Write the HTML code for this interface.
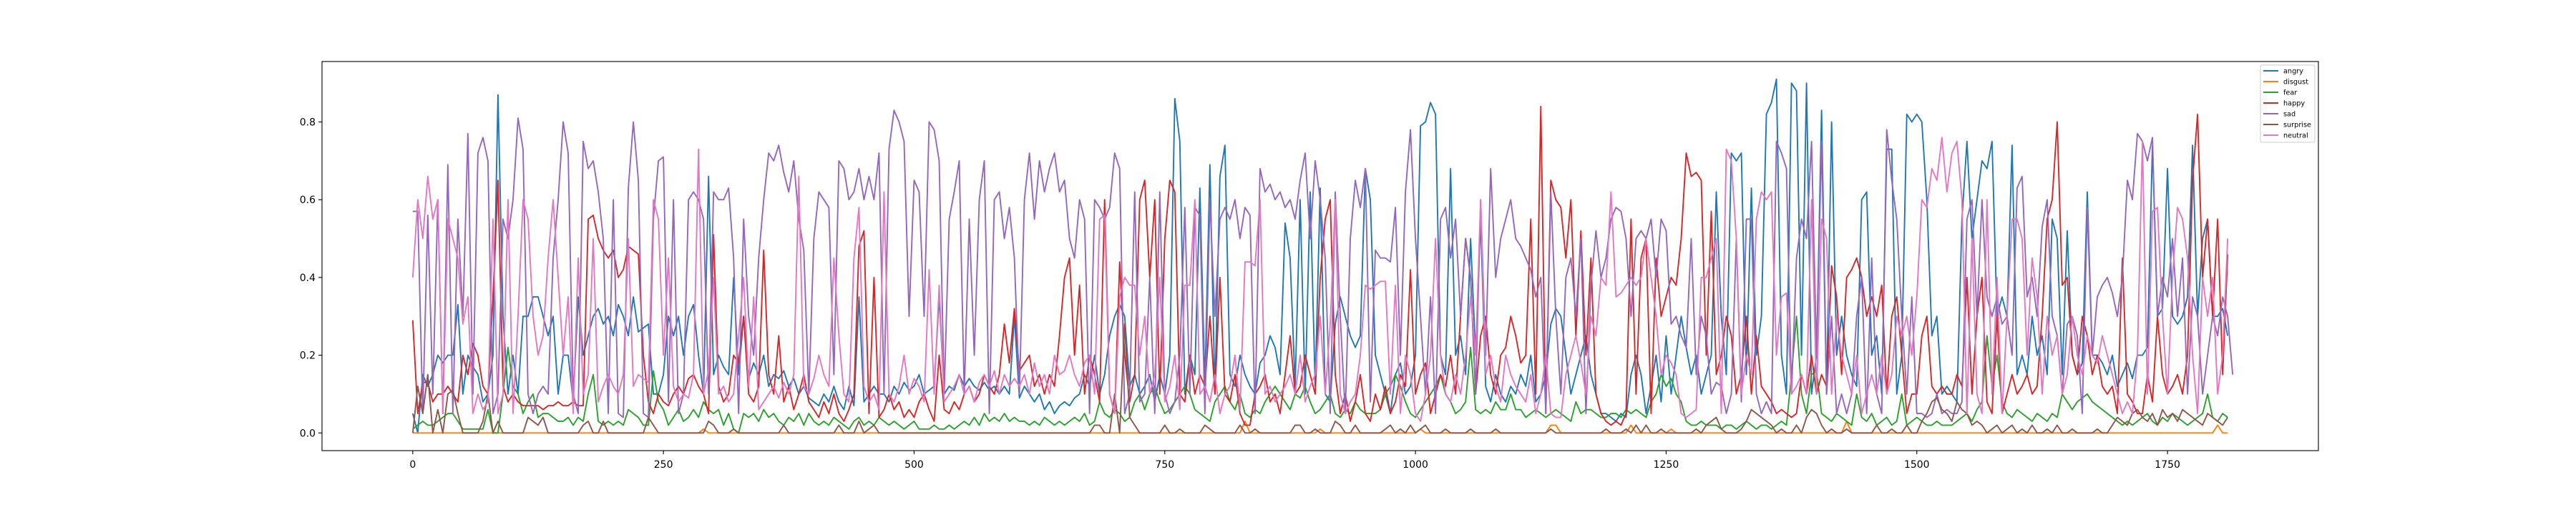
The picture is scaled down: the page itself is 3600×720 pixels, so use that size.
<!DOCTYPE html>
<html>
<head>
<meta charset="utf-8">
<style>
html,body{margin:0;padding:0;background:#fff;}
svg{display:block;font-family:"DejaVu Sans","Liberation Sans",sans-serif;}
</style>
</head>
<body>
<svg id="chart" width="3600" height="720" viewBox="0 0 3600 720" xmlns="http://www.w3.org/2000/svg">
  <rect x="0" y="0" width="3600" height="720" fill="#fff"/>
  <g id="series"></g>
  <g id="axes"></g>
  <g id="legend"></g>
</svg>
<script>
// ---- data (sampled every 5 frames) ----
const frameStep = 5;
const seriesNames = ["angry","disgust","fear","happy","sad","surprise","neutral"];
const seriesColors = ["#1f77b4","#ff7f0e","#2ca02c","#d62728","#9467bd","#8c564b","#e377c2"];
const xTicks = [0,250,500,750,1000,1250,1500,1750];
const yTicks = [0.0,0.2,0.4,0.6,0.8];
const yTickLabels = ["0.0","0.2","0.4","0.6","0.8"];

const angry = [
.05,.0,.15,.12,.15,.2,.18,.2,.2,.33,.1,.2,.17,.15,.08,.1,.2,.87,.3,.1,.2,.1,.3,.3,.35,.35,.3,.25,.3,.1,.2,.2,.08,.35,.2,.25,.3,.32,.28,.3,.25,.33,.3,.25,.35,.26,.27,.28,.1,.1,.15,.3,.25,.3,.2,.3,.33,.2,.1,.66,.15,
.2,.17,.15,.4,.15,.3,.14,.18,.15,.2,.12,.15,.14,.16,.12,.14,.1,.12,.09,.08,.07,.1,.08,.12,.08,.06,.12,.07,.35,.08,.1,.12,.1,.1,.08,.12,.1,.13,.11,.12,.15,.1,.11,.12,.35,.1,.12,.11,.15,.12,.14,.12,.11,.13,.11,.12,.1,.12,.1,.3,.09,
.12,.1,.08,.1,.06,.08,.05,.07,.08,.07,.09,.1,.15,.12,.2,.1,.15,.25,.3,.33,.3,.12,.15,.1,.12,.15,.08,.15,.1,.2,.86,.75,.1,.2,.15,.63,.12,.69,.1,.66,.74,.15,.12,.2,.15,.12,.1,.18,.2,.25,.22,.15,.54,.45,.12,.6,.1,.62,.12,.63,.1,.08,
.28,.35,.3,.25,.22,.25,.68,.6,.2,.15,.1,.05,.15,.18,.1,.12,.2,.79,.8,.85,.82,.2,.15,.68,.2,.25,.15,.5,.2,.55,.12,.08,.15,.1,.08,.12,.1,.15,.12,.2,.08,.1,.15,.28,.32,.3,.2,.1,.15,.2,.25,.15,.1,.05,.05,.04,.03,.05,.04,.15,.2,
.15,.05,.12,.2,.08,.25,.1,.2,.3,.22,.15,.2,.1,.15,.2,.62,.3,.15,.72,.7,.72,.15,.63,.2,.3,.82,.85,.91,.2,.1,.9,.88,.2,.9,.1,.2,.83,.1,.8,.2,.3,.2,.15,.12,.6,.62,.2,.25,.1,.73,.73,.1,.2,.82,.8,.82,.8,.6,.25,.3,.1,.12,
.1,.08,.55,.75,.5,.6,.7,.68,.75,.3,.35,.3,.74,.15,.2,.15,.3,.2,.25,.15,.55,.5,.15,.52,.2,.15,.18,.62,.2,.2,.18,.15,.2,.12,.15,.18,.14,.2,.2,.22,.74,.3,.32,.68,.3,.28,.3,.35,.74,.3,.5,.55,.3,.3,.32,.25
];
const disgust = [
0,0,0,0,0,0,0,0,0,0,0,0,0,0,0,0,0,0,0,0,0,0,0,0,0,0,0,0,0,0,0,0,0,0,0,0,0,0,0,0,0,0,0,0,0,0,0,0,0,0,0,0,0,0,0,0,0,0,.01,0,0,
0,0,0,0,0,0,0,0,0,0,0,0,0,0,0,0,0,0,0,0,0,0,0,0,0,0,0,0,0,0,0,0,0,0,0,0,0,0,0,0,0,0,0,0,0,0,0,0,0,0,0,0,0,0,0,0,0,0,0,0,0,
0,0,0,0,0,0,0,0,0,0,0,0,0,0,0,0,0,0,0,0,0,0,0,0,0,0,0,0,0,0,0,0,0,0,0,0,0,0,0,0,0,0,0,0,.03,0,0,0,0,0,0,0,0,0,0,0,0,0,0,.01,0,0,
0,0,0,0,0,0,0,0,0,0,0,0,0,0,0,0,0,.01,0,0,0,0,0,0,0,0,0,0,0,0,0,0,0,0,0,0,0,0,0,0,0,0,0,.02,.02,0,0,0,0,0,0,0,0,0,0,0,0,0,0,.02,0,
0,0,0,0,0,0,.01,0,0,0,0,0,0,0,0,0,0,0,0,0,0,0,0,0,0,0,0,0,0,0,0,0,0,0,0,0,0,0,0,0,0,.03,0,0,0,0,0,0,0,0,0,0,0,0,0,0,0,0,0,0,0,0,
0,0,0,0,0,0,0,0,0,0,0,0,0,0,0,0,0,0,0,0,0,0,0,0,0,0,0,0,0,0,0,0,0,0,0,0,0,0,0,0,0,0,0,0,0,0,0,0,0,0,0,0,0,.02,0,0
];
const fear = [
.01,.02,.03,.02,.02,.03,.04,.05,.05,.03,.01,.01,.01,.01,.01,.06,.0,.0,.1,.22,.12,.1,.05,.08,.1,.04,.05,.05,.04,.03,.03,.04,.02,.04,.03,.1,.15,.03,.02,.03,.02,.03,.02,.06,.05,.04,.02,.02,.16,.08,.06,.02,.04,.06,.03,.04,.06,.04,.08,.06,.05,
.06,.02,.05,.01,.0,.05,.04,.05,.03,.06,.04,.05,.03,.02,.04,.03,.05,.02,.05,.03,.02,.03,.02,.04,.03,.02,.01,.03,.04,.02,.03,.02,.04,.03,.02,.03,.02,.01,.02,.03,.01,.01,.01,.02,.01,.01,.02,.01,.02,.03,.02,.04,.02,.05,.03,.04,.03,.05,.03,.04,.03,
.03,.02,.03,.02,.04,.03,.02,.03,.02,.03,.04,.03,.05,.02,.03,.08,.05,.04,.06,.05,.03,.04,.08,.1,.06,.1,.12,.08,.05,.06,.08,.1,.12,.1,.06,.05,.04,.03,.08,.1,.12,.08,.06,.1,.05,.04,.06,.05,.08,.1,.12,.1,.08,.06,.1,.09,.12,.08,.05,.06,.08,.1,
.05,.04,.06,.05,.08,.06,.05,.05,.05,.06,.1,.12,.15,.12,.08,.05,.04,.06,.08,.1,.12,.15,.1,.08,.05,.06,.08,.22,.06,.05,.06,.05,.08,.06,.06,.1,.06,.06,.04,.05,.06,.05,.04,.05,.06,.05,.04,.03,.08,.05,.06,.06,.05,.04,.04,.05,.05,.04,.06,.05,.06,
.05,.04,.08,.1,.15,.12,.14,.1,.08,.03,.02,.02,.03,.02,.02,.02,.01,.02,.02,.01,.02,.03,.02,.01,.02,.02,.01,.02,.03,.02,.15,.3,.1,.05,.15,.16,.05,.04,.03,.05,.04,.03,.02,.1,.04,.03,.05,.02,.03,.04,.02,.03,.1,.02,.03,.04,.03,.02,.02,.03,.02,.02,
.02,.03,.04,.05,.03,.06,.08,.25,.12,.2,.08,.05,.04,.06,.05,.04,.03,.05,.04,.03,.05,.04,.1,.08,.06,.08,.09,.1,.08,.07,.06,.05,.04,.03,.02,.03,.02,.03,.04,.05,.03,.02,.04,.03,.05,.04,.03,.02,.03,.04,.05,.1,.04,.03,.05,.04
];
const happy = [
.29,.05,.13,.13,.08,.1,.1,.12,.1,.08,.2,.15,.23,.2,.12,.1,.35,.65,.12,.08,.1,.08,.07,.07,.07,.07,.06,.07,.07,.08,.07,.07,.08,.07,.07,.55,.56,.5,.47,.45,.47,.4,.42,.48,.47,.46,.2,.08,.05,.1,.08,.07,.1,.12,.1,.14,.15,.12,.1,.05,.51,
.12,.08,.1,.2,.18,.3,.1,.08,.12,.47,.15,.1,.25,.08,.12,.06,.1,.15,.08,.06,.04,.08,.05,.1,.05,.03,.06,.1,.48,.52,.05,.4,.04,.06,.1,.06,.08,.04,.06,.04,.08,.1,.06,.03,.2,.06,.05,.08,.06,.1,.12,.08,.1,.15,.12,.1,.15,.28,.18,.32,.16,
.18,.2,.12,.15,.1,.15,.12,.25,.4,.45,.2,.38,.1,.2,.15,.08,.6,.1,.05,.44,.2,.08,.15,.6,.65,.4,.6,.1,.5,.65,.62,.1,.08,.2,.1,.15,.12,.3,.1,.4,.1,.08,.15,.05,.02,.02,.1,.12,.15,.08,.1,.05,.15,.25,.1,.12,.2,.15,.1,.4,.55,.6,
.15,.05,.1,.03,.08,.15,.05,.03,.1,.06,.12,.05,.08,.15,.12,.42,.1,.15,.18,.05,.1,.15,.12,.2,.1,.3,.5,.4,.1,.25,.3,.15,.1,.2,.22,.3,.25,.18,.2,.55,.1,.84,.05,.65,.6,.58,.45,.6,.25,.52,.2,.45,.1,.05,.03,.02,.03,.02,.05,.55,.1,
.45,.5,.05,.45,.3,.35,.4,.38,.5,.72,.66,.67,.65,.2,.57,.15,.2,.3,.25,.1,.15,.3,.1,.25,.12,.1,.08,.05,.06,.05,.04,.05,.15,.1,.2,.1,.15,.12,.43,.35,.15,.4,.42,.45,.4,.3,.35,.3,.38,.1,.3,.35,.2,.05,.1,.1,.25,.3,.12,.1,.12,.1,
.1,.15,.12,.4,.1,.3,.4,.08,.05,.3,.05,.1,.15,.1,.12,.15,.1,.12,.3,.55,.6,.8,.38,.4,.2,.15,.3,.25,.15,.2,.12,.1,.12,.05,.45,.1,.08,.05,.05,.15,.08,.3,.15,.1,.12,.15,.1,.2,.65,.82,.4,.55,.3,.55,.15,.46
];
const sad = [
.57,.57,.05,.56,.1,.6,.05,.69,.05,.55,.3,.77,.1,.72,.76,.7,.05,.1,.55,.5,.6,.81,.73,.1,.05,.1,.12,.1,.45,.6,.8,.72,.1,.05,.75,.68,.7,.62,.5,.05,.6,.05,.04,.63,.8,.65,.05,.04,.55,.7,.71,.08,.6,.05,.1,.6,.62,.6,.55,.1,.62,
.6,.6,.63,.45,.05,.55,.3,.2,.45,.6,.72,.7,.74,.67,.62,.7,.55,.47,.1,.5,.62,.6,.58,.15,.7,.68,.6,.62,.68,.6,.66,.6,.72,.1,.73,.83,.8,.75,.3,.65,.62,.3,.8,.78,.7,.1,.55,.62,.7,.1,.55,.2,.6,.7,.05,.6,.62,.5,.58,.45,.1,.6,
.72,.55,.7,.62,.68,.72,.62,.65,.5,.45,.6,.55,.05,.6,.58,.55,.58,.72,.68,.05,.1,.62,.08,.1,.4,.05,.62,.1,.05,.08,.2,.58,.1,.58,.56,.05,.6,.3,.55,.58,.55,.6,.5,.58,.56,.05,.68,.62,.64,.6,.62,.58,.6,.55,.65,.72,.5,.7,.6,.45,.05,.62,
.3,.05,.5,.65,.58,.68,.08,.47,.45,.45,.44,.58,.2,.62,.78,.5,.3,.1,.35,.05,.55,.58,.45,.55,.3,.5,.4,.1,.6,.2,.68,.4,.5,.55,.6,.5,.48,.45,.42,.35,.4,.05,.62,.3,.1,.4,.45,.3,.5,.05,.38,.52,.4,.45,.55,.58,.57,.5,.3,.5,.52,
.5,.55,.4,.55,.52,.28,.3,.25,.22,.5,.15,.3,.25,.1,.13,.12,.05,.1,.5,.08,.55,.55,.1,.05,.08,.05,.75,.72,.68,.1,.45,.55,.5,.75,.2,.75,.1,.3,.05,.1,.05,.1,.3,.4,.05,.45,.1,.05,.78,.65,.55,.3,.1,.35,.05,.05,.04,.05,.1,.05,.06,.05,
.05,.08,.55,.6,.3,.6,.35,.3,.35,.28,.3,.2,.63,.66,.35,.4,.3,.53,.6,.3,.25,.1,.28,.3,.25,.05,.58,.2,.35,.38,.4,.36,.3,.4,.65,.6,.77,.75,.7,.76,.3,.4,.35,.5,.3,.45,.1,.35,.3,.1,.2,.3,.25,.35,.3,.15
];
const surprise = [
0,.12,.05,.15,0,.06,0,.1,.11,.05,0,0,0,0,.03,.1,0,.03,0,0,0,0,0,.04,.03,.02,.04,0,0,0,0,0,0,0,.02,.03,0,0,.03,0,0,0,0,0,0,0,0,.04,.02,0,0,0,0,0,0,0,0,0,0,.03,.02,
0,0,0,.01,0,0,0,0,0,0,0,0,0,.02,0,0,0,0,0,0,0,0,0,0,.02,0,0,0,.03,0,.01,.02,0,0,0,0,0,0,0,0,0,0,0,0,0,0,0,0,0,0,0,0,0,0,0,0,0,0,0,0,0,
0,0,0,0,0,0,0,0,0,0,0,0,0,0,.02,.02,0,0,.1,0,.28,.04,.02,0,0,0,0,0,.02,0,0,.01,0,0,0,0,.02,.01,0,0,0,0,0,.02,0,0,.01,0,0,0,0,0,0,0,.02,.02,0,0,.01,0,0,0,
.03,.02,0,0,.02,0,0,0,0,0,.01,.02,0,.01,0,.02,0,.01,.02,0,0,0,.01,0,0,0,0,.01,0,0,0,0,.01,0,0,0,0,0,0,0,0,0,0,.01,0,0,0,0,0,0,0,0,0,0,.01,0,0,0,.01,0,.02,
0,.02,0,0,.01,0,0,0,0,0,0,.01,0,.02,.03,.04,.01,0,0,0,.01,.03,.06,.05,.04,.03,.02,0,.01,0,0,.02,0,.04,.06,.05,.02,0,.01,0,0,.01,0,0,0,0,0,.02,0,0,.01,0,0,.02,0,0,.03,.05,.08,.09,.06,.05,
.03,.08,.06,.05,.02,.03,.02,0,.01,.02,0,.01,.02,0,.01,0,.02,0,0,.01,0,.02,0,0,.01,0,0,0,0,.01,0,0,.02,.04,.03,.02,.05,.06,.04,.03,.05,.02,.06,.04,.05,.03,.06,.05,.04,.03,.02,.05,.04,.03,.02,.04
];
const neutral = [
.4,.6,.5,.66,.55,.6,.05,.55,.5,.45,.28,.35,.05,.1,.06,.08,.55,.05,.1,.6,.05,.3,.6,.55,.3,.2,.25,.45,.6,.4,.2,.35,.05,.45,.1,.15,.5,.08,.12,.15,.12,.1,.15,.5,.12,.15,.14,.13,.6,.55,.2,.45,.12,.08,.1,.09,.15,.73,.1,.16,.4,
.1,.12,.08,.1,.25,.4,.12,.35,.06,.08,.1,.12,.09,.13,.1,.15,.66,.12,.1,.14,.2,.15,.12,.45,.25,.1,.08,.45,.58,.12,.08,.1,.06,.62,.1,.08,.12,.2,.1,.14,.12,.08,.42,.1,.38,.08,.1,.12,.15,.1,.12,.08,.13,.15,.12,.16,.1,.15,.12,.14,.12,
.15,.1,.18,.12,.15,.1,.2,.15,.16,.2,.15,.12,.18,.2,.1,.55,.56,.1,.05,.35,.4,.38,.38,.2,.3,.1,.15,.4,.08,.12,.2,.06,.38,.38,.6,.1,.12,.08,.15,.05,.1,.12,.2,.06,.44,.44,.43,.6,.1,.12,.08,.1,.12,.15,.1,.2,.08,.12,.15,.3,.1,.28,
.6,.1,.05,.08,.1,.2,.38,.37,.38,.39,.39,.1,.38,.05,.2,.15,.05,.03,.1,.2,.5,.2,.1,.08,.15,.1,.2,.35,.2,.6,.15,.2,.12,.08,.2,.15,.12,.1,.08,.15,.05,.1,.2,.05,.04,.04,.15,.2,.25,.18,.1,.3,.25,.4,.38,.62,.35,.36,.38,.4,.38,
.4,.5,.4,.3,.15,.2,.18,.15,.05,.04,.05,.06,.4,.4,.45,.5,.05,.73,.7,.5,.1,.2,.15,.55,.62,.6,.62,.2,.35,.36,.1,.12,.15,.1,.6,.1,.55,.5,.1,.3,.2,.15,.1,.2,.05,.1,.15,.1,.2,.1,.15,.3,.25,.3,.2,.35,.6,.58,.68,.65,.76,.62,
.72,.75,.6,.05,.5,.1,.05,.6,.1,.4,.05,.3,.55,.55,.5,.2,.45,.35,.1,.3,.2,.25,.1,.15,.3,.2,.15,.25,.2,.18,.25,.2,.15,.1,.05,.08,.05,.2,.75,.1,.57,.58,.3,.1,.4,.58,.55,.45,.2,.05,.4,.3,.4,.1,.2,.5
];
const seriesData = [angry, disgust, fear, happy, sad, surprise, neutral];

// ---- layout ----
const NS = "http://www.w3.org/2000/svg";
const frame = {left:450, right:3240, top:86, bottom:630};
const xMin = -90.5, xMax = 1900.5;
const yMin = -0.0455, yMax = 0.9555;
function xScale(v){ return frame.left + (v - xMin) / (xMax - xMin) * (frame.right - frame.left); }
function yScale(v){ return frame.bottom - (v - yMin) / (yMax - yMin) * (frame.bottom - frame.top); }
function mk(tag, attrs){ const e = document.createElementNS(NS, tag); for (const k in attrs) e.setAttribute(k, attrs[k]); return e; }

const seriesLayer = document.getElementById('series');
const clip = mk('clipPath', {id:'plotclip'});
clip.appendChild(mk('rect', {x:frame.left, y:frame.top, width:frame.right-frame.left, height:frame.bottom-frame.top}));
document.getElementById('chart').insertBefore(clip, seriesLayer);
seriesLayer.setAttribute('clip-path', 'url(#plotclip)');

seriesData.forEach((arr, s) => {
  const pts = arr.map((v, i) => xScale(i * frameStep).toFixed(2) + ',' + yScale(v).toFixed(2)).join(' ');
  const line = mk('polyline', {points: pts, fill:'none', stroke: seriesColors[s], 'stroke-width': 1.9, 'stroke-linejoin':'round'});
  
  
  seriesLayer.appendChild(line);
});

// ---- axes ----
const axes = document.getElementById('axes');
const frameRect = mk('rect', {x:frame.left, y:frame.top, width:frame.right-frame.left, height:frame.bottom-frame.top, fill:'none', stroke:'#000', 'stroke-width':1.1});


axes.appendChild(frameRect);

xTicks.forEach(t => {
  const x = xScale(t);
  const tk = mk('line', {x1:x, x2:x, y1:frame.bottom, y2:frame.bottom+5, stroke:'#000', 'stroke-width':1.1});
  
  
  axes.appendChild(tk);
  const lb = mk('text', {x:x, y:frame.bottom+24, 'text-anchor':'middle', 'font-size':14, fill:'#000'});
  lb.textContent = String(t);
  
  
  axes.appendChild(lb);
});
yTicks.forEach((t, i) => {
  const y = yScale(t);
  const tk = mk('line', {x1:frame.left-5, x2:frame.left, y1:y, y2:y, stroke:'#000', 'stroke-width':1.1});
  
  
  axes.appendChild(tk);
  const lb = mk('text', {x:frame.left-9, y:y+5, 'text-anchor':'end', 'font-size':14, fill:'#000'});
  lb.textContent = yTickLabels[i];
  
  
  axes.appendChild(lb);
});

// ---- legend ----
const legend = document.getElementById('legend');
const box = mk('rect', {x:3159, y:91, width:76, height:108, rx:2, fill:'#fff', 'fill-opacity':0.8, stroke:'#ccc', 'stroke-width':1});


legend.appendChild(box);
seriesNames.forEach((n, i) => {
  const y = 99 + i * 15;
  const g = mk('g', {});
  
  
  g.appendChild(mk('line', {x1:3163, x2:3184, y1:y, y2:y, stroke:seriesColors[i], 'stroke-width':1.9}));
  const t = mk('text', {x:3191, y:y+3.5, 'font-size':9.7, fill:'#000'});
  t.textContent = n;
  g.appendChild(t);
  legend.appendChild(g);
});
</script>
</body>
</html>
